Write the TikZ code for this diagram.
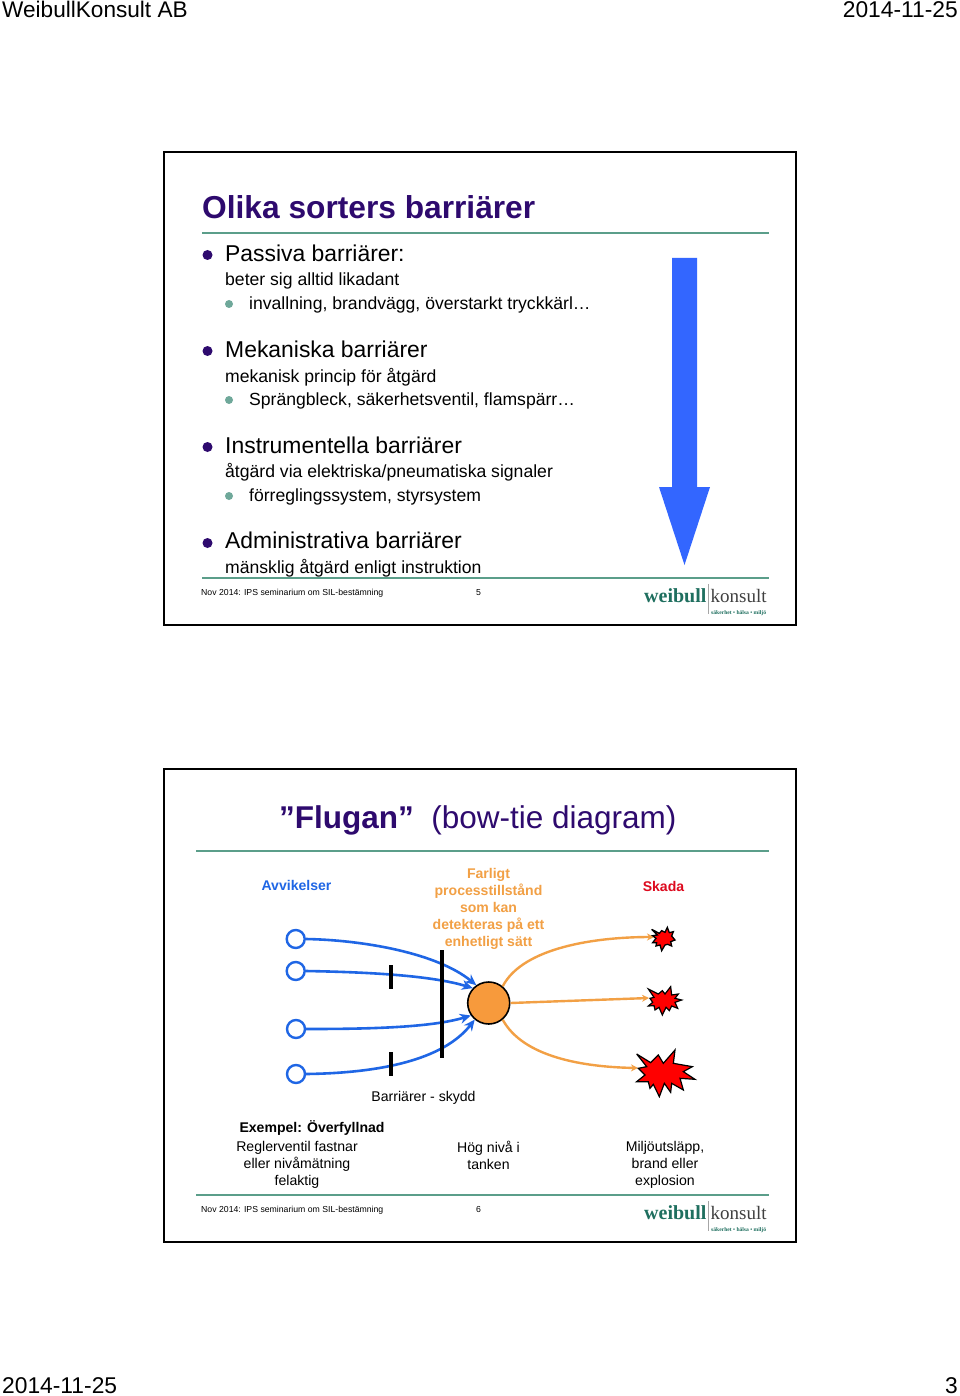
\documentclass[tikz,border=0pt]{standalone}
\usepackage{fontspec}
\setmainfont{Liberation Sans}
\newfontfamily\logofont{Liberation Serif}
\usetikzlibrary{arrows.meta}
\definecolor{titlec}{HTML}{2E0A6E}
\definecolor{subb}{HTML}{6FA89A}
\definecolor{rulec}{HTML}{5B9E8A}
\definecolor{arrowb}{HTML}{3366FF}
\definecolor{flowb}{HTML}{1F66E5}
\definecolor{flowo}{HTML}{F2A045}
\definecolor{hazard}{HTML}{F79A3C}
\definecolor{skada}{HTML}{DD0A1E}
\definecolor{logog}{HTML}{1F6F5F}
\newcommand{\fs}[2]{\fontsize{#1}{#2}\selectfont}
\tikzset{
 lab/.style={anchor=base west,inner sep=0pt,text=black},
 labr/.style={anchor=base east,inner sep=0pt,text=black},
 head/.style={lab,font=\fs{22.9}{27}},
 body/.style={lab,font=\fs{17.6}{22}},
 foot/.style={lab,font=\fs{8.7}{11}},
 big/.style={circle,fill=titlec,inner sep=0pt,minimum size=10pt},
 small/.style={circle,fill=subb,inner sep=0pt,minimum size=8pt},
 slide/.style={draw=black,line width=2pt,fill=white},
 grule/.style={draw=rulec,line width=2pt},
 ctext/.style={align=center,inner sep=0pt,font=\fs{14.1}{17}},
 bctext/.style={ctext,font=\fs{14.05}{17}\bfseries},
 src/.style={circle,draw=flowb,line width=2.4pt,inner sep=0pt,minimum size=18pt,fill=white},
 flowB/.style={draw=flowb,line width=2.6pt,-{Stealth[length=11pt,width=10pt]}},
 flowO/.style={draw=flowo,line width=2.4pt,-{Stealth[length=7pt,width=7pt]}},
 bar/.style={draw=black,line width=3.8pt},
 burst/.style={draw=black,fill=red,line join=miter,miter limit=4},
 logoa/.style={inner sep=0pt,anchor=base west,text=logog,font=\logofont\fs{20}{22}\bfseries},
 logob/.style={inner sep=0pt,anchor=base west,text=black!75,font=\logofont\fs{19}{22}},
 logoc/.style={inner sep=0pt,anchor=base west,text=logog,font=\logofont\fs{5.6}{6}\bfseries},
}
\begin{document}
\begin{tikzpicture}[x=1pt,y=-1pt]
\useasboundingbox (0,0) rectangle (960,1396);
\fill[white] (0,0) rectangle (960,1396);
% page header / footer
\node[lab,font=\fs{22.6}{26}] (hl) at (2,18) {WeibullKonsult AB};
\node[labr,font=\fs{22.8}{26}] (hr) at (958,18) {2014-11-25};
\node[lab,font=\fs{22.8}{26}] (fl) at (2,1393) {2014-11-25};
\node[labr,font=\fs{22.8}{26}] (fr) at (958,1393) {3};
% slide 1
\draw[slide] (164,152) rectangle (796,625);
\node[lab,text=titlec,font=\fs{31.7}{36}\bfseries] (t1) at (202,219) {Olika sorters barriärer};
\draw[grule] (202,233) -- (769,233);
\node[big] (b1) at (207.5,255) {};
\node[head] (p1) at (225,262) {Passiva barriärer:};
\node[body] (p1a) at (225,286) {beter sig alltid likadant};
\node[small] (s1) at (229,304) {};
\node[body] (p1b) at (249,309) {invallning, brandvägg, överstarkt tryckkärl…};
\node[big] (b2) at (207.5,351) {};
\node[head] (p2) at (225,357) {Mekaniska barriärer};
\node[body] (p2a) at (225,382) {mekanisk princip för åtgärd};
\node[small] (s2) at (229,400) {};
\node[body] (p2b) at (249,405) {Sprängbleck, säkerhetsventil, flamspärr…};
\node[big] (b3) at (207.5,447) {};
\node[head] (p3) at (225,453) {Instrumentella barriärer};
\node[body] (p3a) at (225,477) {åtgärd via elektriska/pneumatiska signaler};
\node[small] (s3) at (229,496) {};
\node[body] (p3b) at (249,501) {förreglingssystem, styrsystem};
\node[big] (b4) at (207.5,543) {};
\node[head] (p4) at (225,548) {Administrativa barriärer};
\node[body] (p4a) at (225,573) {mänsklig åtgärd enligt instruktion};
\fill[arrowb] (672,258) -- (697,258) -- (697,487) -- (710,487) -- (684.5,565) -- (659,487) -- (672,487) -- cycle;
\draw[grule] (202,578) -- (769,578);
\node[foot] (f1) at (201,595.5) {Nov 2014: IPS seminarium om SIL-bestämning};
\node[foot] (n1) at (476,595) {5};
\node[logoa] (l1a) at (644,602) {weibull};
\draw[black!35,line width=.8pt] (708,584) -- (708,614);
\node[logob] (l1b) at (710.5,602) {konsult};
\node[logoc] (l1c) at (711,614) {säkerhet • hälsa • miljö};
% slide 2
\draw[slide] (164,769) rectangle (796,1242);
\node[lab,text=titlec,font=\fs{31.5}{38}] (t2) at (279,828) {\textbf{”Flugan”}\hspace{17.5pt}(bow-tie diagram)};
\draw[grule] (196,851) -- (769,851);
\node[bctext,text=flowb] (av) at (296.5,885.5) {Avvikelser};
\node[bctext,text=flowo] (fa) at (488.5,908.5) {Farligt\\processtillstånd\\som kan\\detekteras på ett\\enhetligt sätt};
\node[bctext,text=skada] (sk) at (663.5,886) {Skada};
% bow tie
\node[src] (c1) at (295.7,939) {};
\node[src] (c2) at (295.7,971) {};
\node[src] (c3) at (296,1029) {};
\node[src] (c4) at (296,1074) {};
\node[circle,draw=black,line width=1.6pt,fill=hazard,inner sep=0pt,minimum size=42pt] (hz) at (488.7,1003) {};
\coordinate (e1) at (654,937);
\coordinate (e2) at (649,998);
\coordinate (e3) at (638,1068);
\coordinate (bt) at (442.3,950);
\coordinate (bb) at (442.3,1058);
\coordinate (s1t) at (391.3,965);
\coordinate (s1b) at (391.3,989);
\coordinate (s2t) at (391.3,1052);
\coordinate (s2b) at (391.3,1076);
\draw[flowB] (c1.east) .. controls (363,940) and (437,953) .. (hz.125);
\draw[flowB] (c2.east) .. controls (363,972) and (430,975) .. (hz.137);
\draw[flowB] (c3.east) .. controls (363,1029) and (430,1028) .. (hz.215);
\draw[flowB] (c4.east) .. controls (380,1073) and (443,1060) .. (hz.230);
\draw[bar] (bt) -- (bb);
\draw[bar] (s1t) -- (s1b);
\draw[bar] (s2t) -- (s2b);
\draw[flowO] (hz.50) .. controls (523,947) and (597,937) .. (e1);
\draw[flowO] (hz.0) -- (e2);
\draw[flowO] (hz.-50) .. controls (523,1057) and (583,1067) .. (e3);
% bursts
\begin{scope}[shift={(630,920)},x=0.3333pt,y=-0.3333pt]
\draw[burst,line width=1.3pt] (65,28)--(88,40)--(95,32)--(105,37)--(112,22)--(118,38)--(130,35)--(125,48)--(135,60)--(122,65)--(125,78)--(113,73)--(105,75)--(95,92)--(90,75)--(78,78)--(80,68)--(68,68)--(78,55)--(68,47)--(82,45)--cycle;
\draw[burst,line width=1.2pt] (55,207)--(85,222)--(97,212)--(105,222)--(122,200)--(125,225)--(145,222)--(135,235)--(155,240)--(135,247)--(143,265)--(125,258)--(118,272)--(108,262)--(97,285)--(87,262)--(75,270)--(72,257)--(55,258)--(68,247)--(60,235)--(72,232)--cycle;
\draw[burst,line width=1.2pt] (20,402)--(62,428)--(85,405)--(100,430)--(135,390)--(130,430)--(187,440)--(160,455)--(195,478)--(150,475)--(160,510)--(125,490)--(122,517)--(103,490)--(88,530)--(70,493)--(60,505)--(55,485)--(20,485)--(45,465)--(25,445)--(50,440)--cycle;
\end{scope}
\node[ctext] (ba) at (423.5,1098) {Barriärer - skydd};
\node[bctext] (ex) at (312,1128) {Exempel: Överfyllnad};
\node[ctext] (d1) at (297,1164.5) {Reglerventil fastnar\\eller nivåmätning\\felaktig};
\node[ctext] (d2) at (488.5,1155) {Hög nivå i\\tanken};
\node[ctext] (d3) at (665,1164.5) {Miljöutsläpp,\\brand eller\\explosion};
\draw[grule] (196,1195) -- (769,1195);
\node[foot] (f2) at (201,1212.5) {Nov 2014: IPS seminarium om SIL-bestämning};
\node[foot] (n2) at (476,1212) {6};
\node[logoa] (l2a) at (644,1219) {weibull};
\draw[black!35,line width=.8pt] (708,1201) -- (708,1231);
\node[logob] (l2b) at (710.5,1219) {konsult};
\node[logoc] (l2c) at (711,1231) {säkerhet • hälsa • miljö};
\end{tikzpicture}
\end{document}
